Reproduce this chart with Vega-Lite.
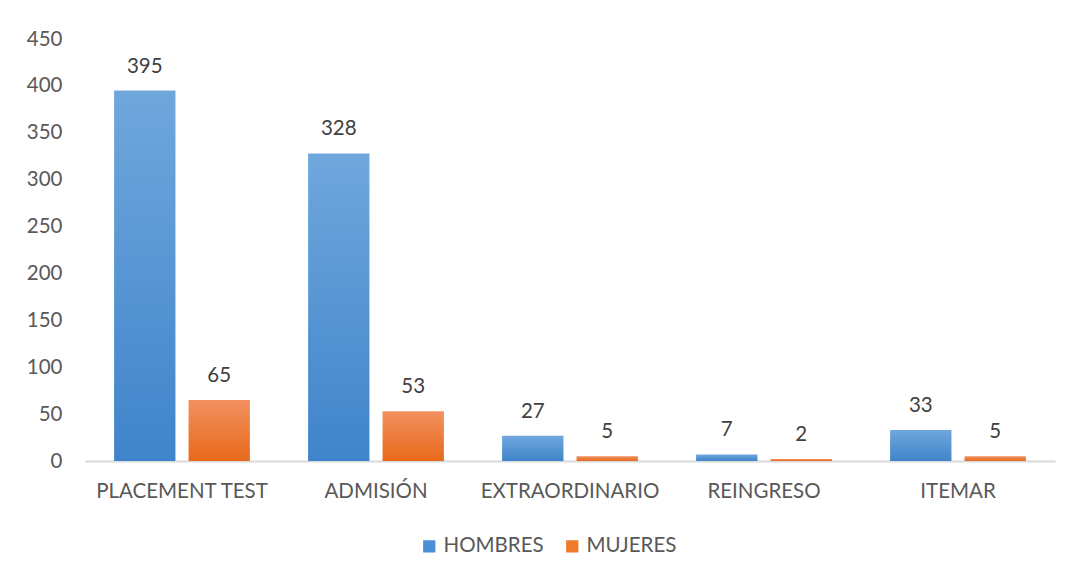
{
  "$schema": "https://vega.github.io/schema/vega-lite/v6.json",
  "width": 970,
  "height": 422,
  "autosize": {"type": "none"},
  "padding": {"left": 85, "top": 39, "right": 11, "bottom": 116},
  "background": "white",
  "config": {
    "view": {"stroke": null},
    "font": "Lato",
    "axis": {"labelFont": "Lato", "labelFontSize": 20.5, "labelColor": "#595959", "grid": false, "ticks": false}
  },
  "data": {
    "values": [
      {"tipo": "PLACEMENT TEST", "sexo": "HOMBRES", "valor": 395},
      {"tipo": "PLACEMENT TEST", "sexo": "MUJERES", "valor": 65},
      {"tipo": "ADMISIÓN", "sexo": "HOMBRES", "valor": 328},
      {"tipo": "ADMISIÓN", "sexo": "MUJERES", "valor": 53},
      {"tipo": "EXTRAORDINARIO", "sexo": "HOMBRES", "valor": 27},
      {"tipo": "EXTRAORDINARIO", "sexo": "MUJERES", "valor": 5},
      {"tipo": "REINGRESO", "sexo": "HOMBRES", "valor": 7},
      {"tipo": "REINGRESO", "sexo": "MUJERES", "valor": 2},
      {"tipo": "ITEMAR", "sexo": "HOMBRES", "valor": 33},
      {"tipo": "ITEMAR", "sexo": "MUJERES", "valor": 5}
    ]
  },
  "encoding": {
    "x": {
      "field": "tipo", "type": "nominal", "sort": null,
      "scale": {"paddingInner": 0.3, "paddingOuter": 0.15},
      "axis": {"title": null, "labelAngle": 0, "labelPadding": 20, "domainColor": "#d9d9d9", "domainWidth": 2}
    },
    "xOffset": {"field": "sexo", "type": "nominal", "scale": {"paddingInner": 0.176, "paddingOuter": 0}},
    "y": {
      "field": "valor", "type": "quantitative",
      "scale": {"domain": [0, 450], "nice": false},
      "axis": {"title": null, "values": [0, 50, 100, 150, 200, 250, 300, 350, 400, 450], "domain": false, "labelPadding": 23}
    }
  },
  "layer": [
    {
      "mark": {"type": "bar"},
      "encoding": {
        "fill": {
          "condition": {
            "test": "datum.sexo === 'HOMBRES'",
            "value": {"gradient": "linear", "x1": 0, "y1": 0, "x2": 0, "y2": 1,
              "stops": [{"offset": 0, "color": "#70a7dd"}, {"offset": 1, "color": "#3f84ca"}]}
          },
          "value": {"gradient": "linear", "x1": 0, "y1": 0, "x2": 0, "y2": 1,
            "stops": [{"offset": 0, "color": "#f29160"}, {"offset": 1, "color": "#e8691a"}]}
        }
      }
    },
    {
      "mark": {"type": "square", "opacity": 0, "size": 1},
      "encoding": {
        "color": {
          "field": "sexo", "type": "nominal",
          "scale": {"domain": ["HOMBRES", "MUJERES"], "range": ["#4a8fd4", "#f07a2c"]},
          "legend": {
            "title": null, "orient": "none", "direction": "horizontal",
            "legendX": 334, "legendY": 497,
            "symbolType": "square", "symbolSize": 150, "symbolOpacity": 1, "symbolStrokeWidth": 0,
            "labelFontSize": 20.5, "labelColor": "#595959", "labelFont": "Lato",
            "columnPadding": 18, "labelOffset": 4
          }
        }
      }
    },
    {
      "mark": {"type": "text", "baseline": "alphabetic", "dy": -18, "fontSize": 20.5, "color": "#404040", "font": "Lato"},
      "encoding": {"text": {"field": "valor", "type": "quantitative"}}
    }
  ]
}
